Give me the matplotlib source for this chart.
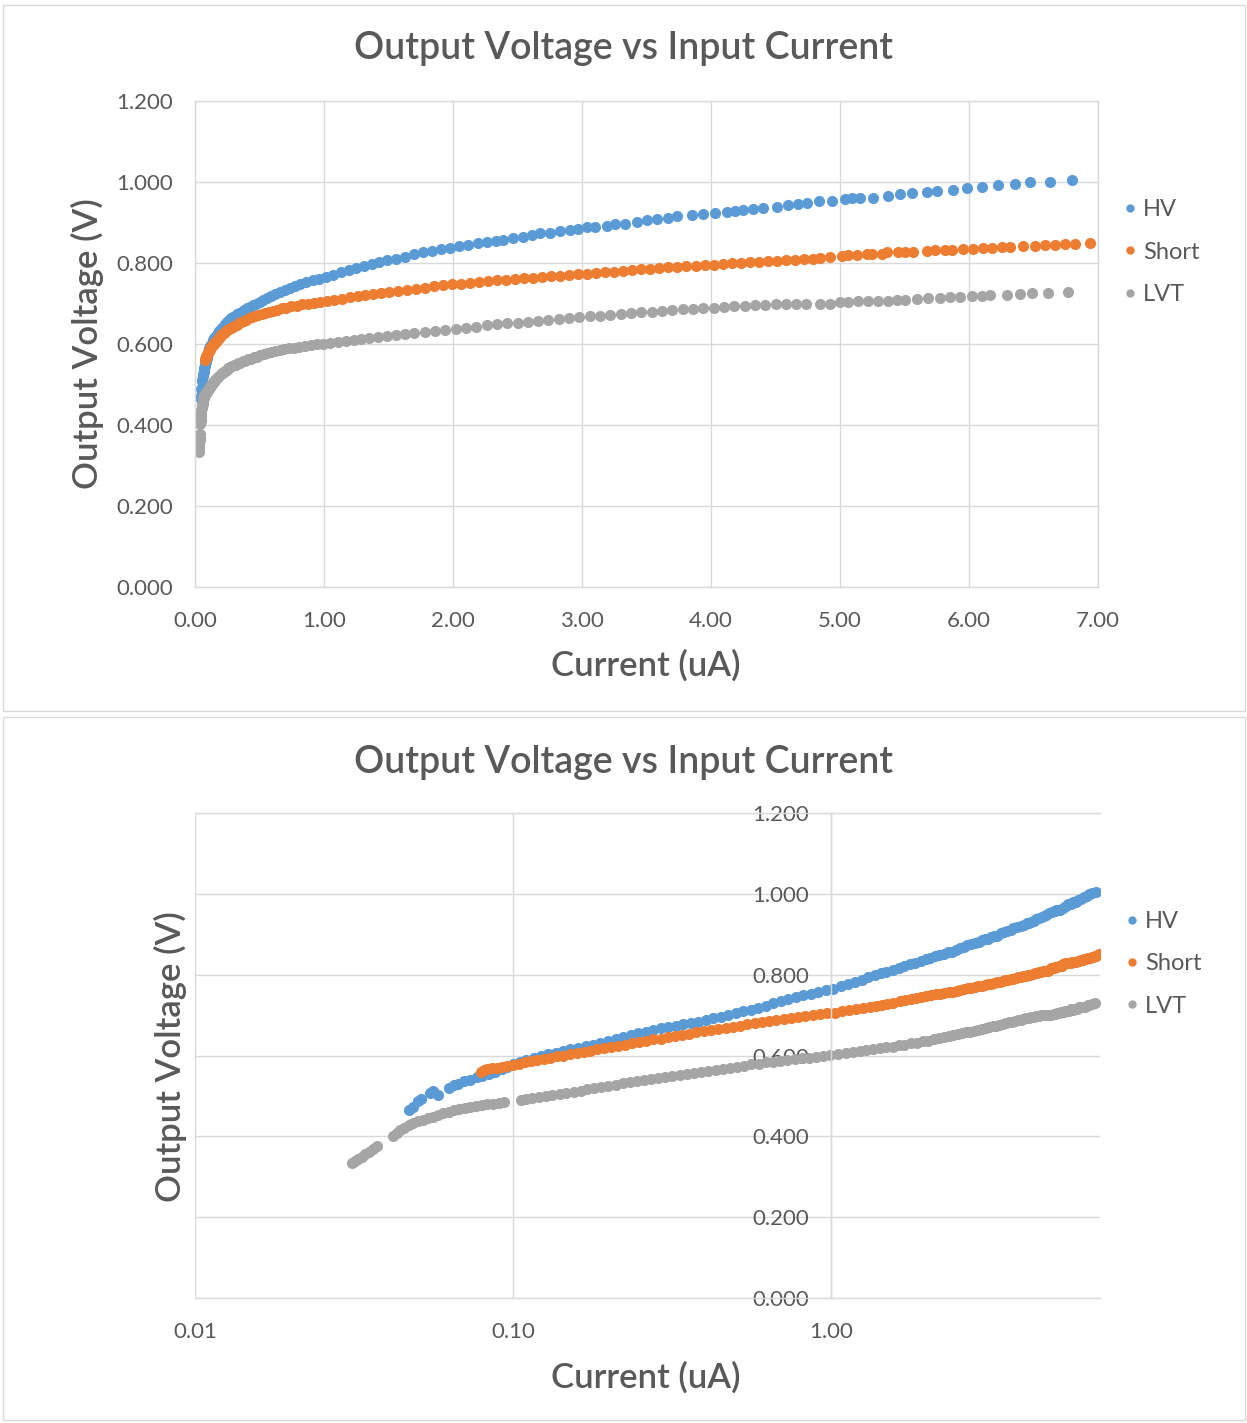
import matplotlib
matplotlib.use('Agg')
import matplotlib.pyplot as plt
from matplotlib.patches import Rectangle
from matplotlib.ticker import FixedLocator, FormatStrFormatter, NullLocator

# valeurs (courant en uA, tension en V)
hv_current = [
    0.0470, 0.0485, 0.0502, 0.0512, 0.0548, 0.0560, 0.0582, 0.0628, 0.0650, 0.0672,
    0.0700, 0.0730, 0.0772, 0.0800, 0.0840, 0.0880, 0.0920, 0.0960, 0.1000, 0.1050,
    0.1100, 0.1160, 0.1220, 0.1290, 0.1360, 0.1430, 0.1510, 0.1600, 0.1690, 0.1780,
    0.1880, 0.1990, 0.2100, 0.2220, 0.2340, 0.2470, 0.2610, 0.2760, 0.2910, 0.3080,
    0.3250, 0.3430, 0.3620, 0.3820, 0.4030, 0.4260, 0.4500, 0.4750, 0.5010, 0.5290,
    0.5590, 0.5900, 0.6230, 0.6580, 0.6950, 0.7330, 0.7740, 0.8170, 0.8630, 0.9110,
    0.9620, 1.0150, 1.0700, 1.1300, 1.1900, 1.2500, 1.3100, 1.3700, 1.4300, 1.4900,
    1.5600, 1.6300, 1.7000, 1.7700, 1.8400, 1.9100, 1.9800, 2.0500, 2.1200, 2.1900,
    2.2600, 2.3300,
    2.390, 2.467, 2.545, 2.610, 2.674, 2.752, 2.829, 2.907, 2.971, 3.036,
    3.101, 3.191, 3.256, 3.333, 3.424, 3.501, 3.579, 3.669, 3.734, 3.850,
    3.941, 4.031, 4.122, 4.186, 4.250, 4.328, 4.406, 4.509, 4.599, 4.677,
    4.741, 4.840, 4.935, 5.039, 5.090, 5.155, 5.258, 5.374, 5.465, 5.556,
    5.672, 5.749, 5.878, 5.982, 6.098, 6.227, 6.357, 6.473, 6.628, 6.796,
]
hv_voltage = [
    0.465, 0.472, 0.488, 0.492, 0.508, 0.512, 0.503, 0.520, 0.526, 0.530,
    0.536, 0.540, 0.546, 0.550, 0.555, 0.560, 0.566, 0.572, 0.578, 0.584,
    0.589, 0.594, 0.598, 0.603, 0.607, 0.611, 0.615, 0.619, 0.623, 0.627,
    0.631, 0.636, 0.640, 0.645, 0.650, 0.655, 0.659, 0.663, 0.667, 0.670,
    0.673, 0.677, 0.680, 0.684, 0.688, 0.692, 0.696, 0.700, 0.704, 0.709,
    0.713, 0.718, 0.723, 0.729, 0.734, 0.739, 0.744, 0.749, 0.753, 0.758,
    0.761, 0.765, 0.771, 0.777, 0.783, 0.788, 0.793, 0.798, 0.803, 0.807,
    0.811, 0.816, 0.821, 0.826, 0.830, 0.834, 0.838, 0.842, 0.845, 0.849,
    0.852, 0.855,
    0.857, 0.861, 0.865, 0.869, 0.873, 0.875, 0.879, 0.881, 0.885, 0.888,
    0.888, 0.892, 0.896, 0.896, 0.902, 0.906, 0.908, 0.910, 0.916, 0.919,
    0.921, 0.924, 0.927, 0.929, 0.931, 0.934, 0.937, 0.939, 0.942, 0.945,
    0.947, 0.952, 0.954, 0.957, 0.960, 0.960, 0.961, 0.966, 0.970, 0.974,
    0.976, 0.979, 0.980, 0.985, 0.988, 0.992, 0.995, 0.999, 1.001, 1.005,
]

short_current = [
    0.079, 0.081, 0.083, 0.086, 0.089, 0.092, 0.096, 0.100, 0.104, 0.109,
    0.114, 0.119, 0.125, 0.131, 0.137, 0.144, 0.151, 0.159, 0.167, 0.175,
    0.184, 0.193, 0.203, 0.213, 0.224, 0.236, 0.248, 0.262, 0.276, 0.291,
    0.306, 0.322, 0.340, 0.358, 0.377, 0.398, 0.419, 0.442, 0.466, 0.491,
    0.517, 0.545, 0.575, 0.606, 0.638, 0.673, 0.709, 0.748, 0.788, 0.830,
    0.875, 0.922, 0.972, 1.025, 1.080, 1.140, 1.200, 1.260, 1.320, 1.380,
    1.440, 1.500, 1.570, 1.640, 1.710, 1.780, 1.850, 1.920, 1.990, 2.060,
    2.130, 2.200, 2.270, 2.340, 2.410, 2.480, 2.550, 2.620, 2.690, 2.760,
    2.830, 2.900, 2.970, 3.040, 3.110, 3.180, 3.250, 3.320, 3.390, 3.460,
    3.530, 3.600, 3.670, 3.740, 3.810, 3.880, 3.950, 4.020, 4.090, 4.160,
    4.230, 4.300, 4.370, 4.440, 4.510, 4.580, 4.650, 4.720, 4.790, 4.845,
    4.922, 5.013, 5.065, 5.129, 5.207, 5.246, 5.323, 5.362, 5.452, 5.504,
    5.568, 5.672, 5.736, 5.814, 5.866, 5.956, 6.034, 6.111, 6.176, 6.253,
    6.318, 6.421, 6.512, 6.589, 6.667, 6.744, 6.822, 6.938,
]
short_voltage = [
    0.560, 0.563, 0.566, 0.568, 0.570, 0.572, 0.575, 0.577, 0.580, 0.583,
    0.586, 0.589, 0.592, 0.595, 0.598, 0.600, 0.603, 0.606, 0.609, 0.612,
    0.615, 0.618, 0.621, 0.624, 0.627, 0.630, 0.634, 0.637, 0.640, 0.642,
    0.645, 0.648, 0.651, 0.654, 0.657, 0.660, 0.663, 0.666, 0.668, 0.671,
    0.674, 0.677, 0.680, 0.682, 0.685, 0.688, 0.690, 0.693, 0.695, 0.698,
    0.700, 0.702, 0.704, 0.706, 0.709, 0.712, 0.715, 0.718, 0.721, 0.723,
    0.726, 0.728, 0.731, 0.734, 0.737, 0.739, 0.742, 0.745, 0.747, 0.749,
    0.751, 0.753, 0.755, 0.757, 0.758, 0.760, 0.762, 0.764, 0.766, 0.767,
    0.769, 0.771, 0.772, 0.774, 0.776, 0.777, 0.779, 0.781, 0.782, 0.784,
    0.786, 0.787, 0.789, 0.790, 0.792, 0.793, 0.795, 0.796, 0.797, 0.799,
    0.800, 0.802, 0.803, 0.804, 0.806, 0.807, 0.808, 0.809, 0.810, 0.812,
    0.816, 0.817, 0.819, 0.820, 0.821, 0.822, 0.822, 0.826, 0.828, 0.828,
    0.828, 0.830, 0.831, 0.832, 0.832, 0.835, 0.835, 0.836, 0.837, 0.840,
    0.840, 0.842, 0.842, 0.844, 0.844, 0.846, 0.847, 0.850,
]

lvt_current = [
    0.0311, 0.0318, 0.0326, 0.0334, 0.0343, 0.0352, 0.0362, 0.0373, 0.0418, 0.0430,
    0.0442, 0.0455, 0.0470, 0.0486, 0.0503, 0.0521, 0.0540, 0.0560, 0.0582, 0.0604,
    0.0628, 0.0652, 0.0678, 0.0705, 0.0734, 0.0764, 0.0796, 0.0830, 0.0866, 0.0905,
    0.0935, 0.1056, 0.1100, 0.1150, 0.1210, 0.1270, 0.1330, 0.1400, 0.1470, 0.1550,
    0.1630, 0.1710, 0.1800, 0.1890, 0.1990, 0.2100, 0.2210, 0.2330, 0.2450, 0.2580,
    0.2720, 0.2860, 0.3010, 0.3170, 0.3340, 0.3520, 0.3710, 0.3900, 0.4110, 0.4330,
    0.4560, 0.4800, 0.5060, 0.5330, 0.5610, 0.5910, 0.6230, 0.6560, 0.6910, 0.7280,
    0.7670, 0.8080, 0.8510, 0.8960, 0.9440, 0.9950, 1.0500, 1.1100, 1.1700, 1.2300,
    1.2900, 1.3500, 1.4200, 1.4900, 1.5600, 1.6300, 1.7000, 1.7800, 1.8600, 1.9400,
    2.0200, 2.1000, 2.1800, 2.2600, 2.3400, 2.4200, 2.5000, 2.5800, 2.6600, 2.7400,
    2.8200, 2.9000, 2.9800, 3.0600, 3.1400, 3.2200, 3.3000, 3.3800, 3.4600, 3.5400,
    3.6200, 3.7000, 3.7800, 3.8600, 3.9400, 4.0200, 4.1000, 4.1800, 4.2600, 4.3400,
    4.4200, 4.5000, 4.5800, 4.6600, 4.7400, 4.845, 4.922, 5.000, 5.065, 5.142,
    5.220, 5.297, 5.375, 5.439, 5.504, 5.594, 5.685, 5.775, 5.853, 5.930,
    6.021, 6.098, 6.163, 6.292, 6.395, 6.486, 6.615, 6.770,
]
lvt_voltage = [
    0.333, 0.338, 0.344, 0.350, 0.356, 0.362, 0.369, 0.377, 0.402, 0.409,
    0.415, 0.421, 0.427, 0.432, 0.437, 0.441, 0.445, 0.449, 0.453, 0.457,
    0.461, 0.464, 0.467, 0.470, 0.473, 0.475, 0.477, 0.479, 0.480, 0.482,
    0.484, 0.490, 0.492, 0.494, 0.497, 0.499, 0.502, 0.505, 0.507, 0.510,
    0.513, 0.516, 0.519, 0.522, 0.525, 0.528, 0.531, 0.534, 0.537, 0.540,
    0.542, 0.545, 0.547, 0.549, 0.552, 0.554, 0.557, 0.559, 0.562, 0.564,
    0.567, 0.569, 0.572, 0.575, 0.578, 0.580, 0.583, 0.585, 0.587, 0.589,
    0.591, 0.593, 0.595, 0.597, 0.599, 0.601, 0.603, 0.606, 0.608, 0.611,
    0.613, 0.615, 0.618, 0.620, 0.622, 0.625, 0.627, 0.630, 0.632, 0.635,
    0.637, 0.640, 0.643, 0.646, 0.649, 0.651, 0.653, 0.655, 0.657, 0.659,
    0.661, 0.663, 0.666, 0.668, 0.670, 0.672, 0.674, 0.676, 0.678, 0.680,
    0.682, 0.684, 0.686, 0.687, 0.689, 0.690, 0.692, 0.693, 0.695, 0.696,
    0.697, 0.698, 0.699, 0.699, 0.700, 0.700, 0.700, 0.703, 0.703, 0.705,
    0.705, 0.707, 0.707, 0.709, 0.709, 0.710, 0.714, 0.713, 0.715, 0.715,
    0.719, 0.719, 0.721, 0.721, 0.724, 0.725, 0.727, 0.729,
]

series_names = ['HV', 'Short', 'LVT']
series_colors = ['#5B9BD5', '#ED7D31', '#A5A5A5']
y_ticks = [0.0, 0.2, 0.4, 0.6, 0.8, 1.0, 1.2]
lin_x_ticks = [0, 1, 2, 3, 4, 5, 6, 7]
log_x_ticks = [0.01, 0.1, 1.0]

title = 'Output Voltage vs Input Current'
x_label = 'Current (uA)'
y_label = 'Output Voltage (V)'

TEXT = '#595959'
GRID = '#D9D9D9'
W, H = 1247, 1423

plt.rcParams['font.family'] = ['Lato', 'DejaVu Sans']

fig = plt.figure(figsize=(W / 100, H / 100), dpi=100)


def box(left, top, right, bottom):
    # rectangle en pixels -> fraction de figure
    return [left / W, 1 - bottom / H, (right - left) / W, (bottom - top) / H]


# cadres des deux graphiques
for l, t, r, b in [(3, 5, 1245, 711), (3, 717, 1245, 1420)]:
    fig.add_artist(Rectangle((l / W, 1 - b / H), (r - l) / W, (b - t) / H,
                             transform=fig.transFigure, fill=False, ec=GRID, lw=1))

ax1 = fig.add_axes(box(195, 101, 1098, 587))
ax2 = fig.add_axes(box(195, 813, 1100, 1298))

data = [(hv_current, hv_voltage), (short_current, short_voltage), (lvt_current, lvt_voltage)]

for ax in (ax1, ax2):
    for (x, y), name, c in zip(data, series_names, series_colors):
        ax.plot(x, y, 'o', ms=8, color=c, mec='none', label=name)
    ax.set_ylim(0, 1.2)
    ax.yaxis.set_major_locator(FixedLocator(y_ticks))
    ax.yaxis.set_major_formatter(FormatStrFormatter('%.3f'))
    ax.grid(True, color=GRID, lw=1)
    ax.set_axisbelow(True)
    ax.tick_params(length=0, labelsize=16, labelcolor=TEXT)
    ax.tick_params(axis='y', pad=16)
    ax.tick_params(axis='x', pad=17)
    for s in ax.spines.values():
        s.set_color(GRID)
        s.set_linewidth(1)
    leg = ax.legend(loc='center left', bbox_to_anchor=(1.025, 0.689), frameon=False,
                    fontsize=17, handletextpad=0.15, handlelength=0.8,
                    labelspacing=0.9, markerscale=0.75, borderaxespad=0, borderpad=0)
    for t in leg.get_texts():
        t.set_color(TEXT)

# graphique lineaire
ax1.set_xlim(0, 7)
ax1.xaxis.set_major_locator(FixedLocator(lin_x_ticks))
ax1.xaxis.set_major_formatter(FormatStrFormatter('%.2f'))

# graphique log, axe Y croise a x = 1
ax2.set_xscale('log')
ax2.set_xlim(0.01, 7)
ax2.xaxis.set_major_locator(FixedLocator(log_x_ticks))
ax2.xaxis.set_minor_locator(NullLocator())
ax2.xaxis.set_major_formatter(FormatStrFormatter('%.2f'))
ax2.spines['left'].set_position(('data', 1.0))
ax2.spines['right'].set_visible(False)

# titres et libelles
for ty, xy, yx, yy in [(48, 665, 87, 344), (762, 1377, 170, 1057)]:
    fig.text(624 / W, 1 - ty / H, title, ha='center', va='center', fontsize=27,
             color=TEXT, fontweight='semibold')
    fig.text(646 / W, 1 - xy / H, x_label, ha='center', va='center', fontsize=25,
             color=TEXT, fontweight='semibold')
    fig.text(yx / W, 1 - yy / H, y_label, ha='center', va='center', rotation=90,
             fontsize=25, color=TEXT, fontweight='semibold')

fig.savefig('out.png', dpi=100)
